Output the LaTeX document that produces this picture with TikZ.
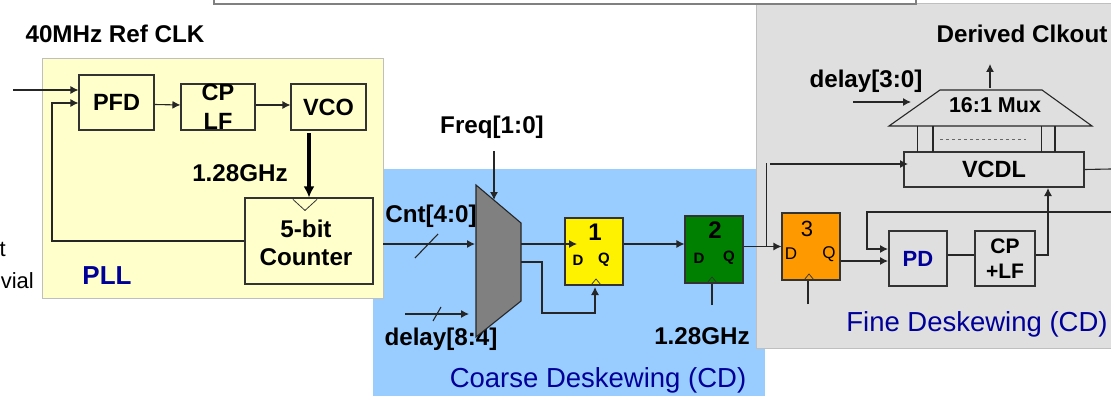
\documentclass[tikz,border=0pt]{standalone}
\usepackage{fontspec}
\setmainfont{Liberation Sans}
\usetikzlibrary{arrows.meta}
\usetikzlibrary{calc}
\definecolor{pllyellow}{HTML}{FFFFCC}
\definecolor{coarseblue}{HTML}{99CCFF}
\definecolor{finegray}{HTML}{DFDFDF}
\definecolor{titleblue}{HTML}{000099}
\newcommand{\bfsz}[1]{\fontsize{#1}{#1}\selectfont\bfseries}
\newcommand{\rmsz}[1]{\fontsize{#1}{#1}\selectfont}
\tikzstyle{block}=[draw=black!80,line width=1.1pt,inner sep=0pt,align=center,font=\bfsz{23.5}]
\tikzstyle{flop}=[block,font=\bfsz{24},text depth=0pt]
\tikzstyle{lbl}=[inner sep=0pt,font=\bfsz{24.2}]
\tikzstyle{pin}=[inner sep=0pt,font=\bfsz{15}]
\tikzstyle{title}=[inner sep=0pt,text=titleblue,font=\rmsz{27.5}]
\tikzstyle{sig}=[line width=1.1pt,draw=black!85]
\tikzstyle{arr}=[sig,-{Latex[length=8pt,width=8pt]}]
\tikzstyle{region}=[line width=0.8pt]
\begin{document}
\begin{tikzpicture}[x=1pt,y=-1pt]
\useasboundingbox (0,0) rectangle (1111,396);

\fill[coarseblue] (373,169) rectangle (765,396);
\draw[region,fill=pllyellow,draw=black!25] (42,58) rectangle (383,298);
\draw[region,fill=finegray,draw=black!25] (756,3) rectangle (1111,348);
\draw[line width=1.2pt,draw=black!50,fill=white] (214,0) -- (214,4) -- (916,4) -- (916,0);

\node [block,minimum width=75pt,minimum height=55pt] (pfd) at (116.5,102.5) {PFD};
\node [block,minimum width=74pt,minimum height=46pt,align=center] (cplf) at (218,107) {CP\\[5pt]LF};
\node [block,minimum width=75pt,minimum height=46pt] (vco) at (328.5,107) {VCO};
\node [block,minimum width=128pt,minimum height=86pt] (cnt) at (309,241) {};
\node [lbl] (cnttxt) at (306,246) {\begin{tabular}{@{}c@{}}5-bit\\[4pt]Counter\end{tabular}};

\node [lbl] (refclk) at (115,34) {40MHz Ref CLK};
\node [lbl] (ghzpll) at (240,173) {1.28GHz};
\node [inner sep=0pt,text=titleblue,font=\bfsz{26}] (plltxt) at (107,276) {PLL};
\node [inner sep=0pt,anchor=east,font=\rmsz{22}] (cropa) at (6,249) {t};
\node [inner sep=0pt,anchor=east,font=\rmsz{22}] (cropb) at (34,281) {vial};

\coordinate (refin) at (13,90);
\coordinate (fbturn) at (52,103);
\coordinate (vcotap) at (309,133);
\draw [arr] (refin) -- (refin -| pfd.west);
\draw [arr] (cnt.west) -| (fbturn) -- (fbturn -| pfd.west);
\draw [arr] ($(pfd.east)+(0,2)$) -- ($(cplf.west)+(0,-2)$);
\draw [arr] ($(cplf.east)+(0,-2)$) -- ($(vco.west)+(0,-2)$);
\draw [line width=3.2pt,draw=black,-{Latex[length=11pt,width=11pt]}] (vcotap) -- (cnt.north);
\draw [line width=0.8pt,draw=black!80] ($(cnt.north)+(-16,2)$) -- ($(cnt.north)+(-4,13)$) -- ($(cnt.north)+(8,2)$);

\node [lbl] (freqtxt) at (492,127) {Freq[1:0]};
\node [lbl] (cnttag) at (431,216) {Cnt[4:0]};
\node [lbl] (dlyhi) at (441,339) {delay[8:4]};
\node [lbl] (ghzcd) at (702,336) {1.28GHz};
\node [title] (coarsetxt) at (598,380.5) {Coarse Deskewing (CD)};

\draw [line width=1.1pt,draw=black!85,fill=black!50] (476,185) -- (521,223) -- (521,301) -- (476,337) -- cycle;
\coordinate (muxtop) at (494,200);
\coordinate (muxin) at (475,244);
\coordinate (muxdly) at (469,314);
\coordinate (muxouta) at (521,244);
\coordinate (muxoutb) at (521,262);
\coordinate (freqin) at (494,151);
\coordinate (cntin) at (383,244);
\coordinate (dlyin) at (405,314);
\draw [arr] (freqin) -- (muxtop);
\draw [arr] (cntin) -- (muxin);
\draw [arr] (dlyin) -- (muxdly);
\draw [sig] (415,258) -- (438,234);
\draw [sig] (433,321) -- (441,307);

\node [flop,fill=yellow,minimum width=58pt,minimum height=67pt] (ffa) at (594,251.5) {};
\node [flop,fill=green!50!black,minimum width=58pt,minimum height=67pt] (ffb) at (714,249.5) {};
\node [flop,fill=orange!80!yellow,minimum width=58pt,minimum height=67pt] (ffc) at (811,246.5) {};
\node [inner sep=0pt,font=\bfsz{24}] (ffanum) at (595,232) {1};
\node [pin] (ffad) at (578,260) {D};
\node [pin] (ffaq) at (604,260) {Q};
\node [inner sep=0pt,font=\bfsz{24}] (ffbnum) at (715,230) {2};
\node [pin] (ffbd) at (699,258) {D};
\node [pin] (ffbq) at (729,258) {Q};
\node [inner sep=0pt,font=\rmsz{22}] (ffcnum) at (807,229) {3};
\node [inner sep=0pt,font=\rmsz{17}] (ffcd) at (791,254) {D};
\node [inner sep=0pt,font=\rmsz{17}] (ffcq) at (829,254) {Q};

\draw [line width=0.7pt,draw=black!80] (591,285) -- (596,279) -- (601,285);
\draw [line width=0.7pt,draw=black!80] (707,283) -- (712,277) -- (717,283);
\draw [line width=0.7pt,draw=black!80] (804,280) -- (809,274) -- (814,280);

\coordinate (ffain) at (577,244);
\coordinate (ffaclk) at (595,287);
\coordinate (bendout) at (542,313);
\coordinate (ffbclk) at (712,305);
\coordinate (ffcclk) at (808,304);
\coordinate (tap) at (766,163);
\draw [arr] (muxouta) -- (ffain);
\draw [arr] (muxoutb) -| (bendout) -| (ffaclk);
\draw [arr] (ffa.east |- ffain) -- (ffb.west |- ffain);
\draw [arr] (ffb.east |- ffc.west) -- (ffc.west);
\draw [sig,line width=0.9pt] (tap) -- (tap |- ffc.west);
\draw [sig] (ffbclk) -- (ffbclk |- ffb.south);
\draw [sig] (ffcclk) -- (ffcclk |- ffc.south);

\node [block,font=\bfsz{22},text=titleblue,minimum width=58pt,minimum height=55pt] (pd) at (918,258.5) {PD};
\node [block,font=\bfsz{21},minimum width=60pt,minimum height=55pt] (cpf) at (1005,258.5) {CP\\[4pt]+LF};
\node [block,minimum width=180pt,minimum height=35pt] (vcdl) at (994,169.5) {VCDL};

\draw [line width=1.1pt,draw=black!85,fill=finegray] (940,90) -- (1042,90) -- (1092,126) -- (889,126) -- cycle;
\node [inner sep=0pt,font=\bfsz{21.5}] (muxtxt) at (995,105) {16:1 Mux};
\node [lbl] (clkout) at (1022,34) {Derived Clkout};
\node [lbl] (dlylo) at (866,81) {delay[3:0]};
\node [title] (finetxt) at (977,324.5) {Fine Deskewing (CD)};

\coordinate (muxup) at (990,64);
\coordinate (dlyloin) at (853,102);
\coordinate (dlyloend) at (911,102);
\coordinate (vcdlfrom) at (770,164);
\coordinate (vcdlin) at (908,164);
\coordinate (vcdlout) at (1111,169);
\coordinate (fbin) at (1111,212);
\coordinate (fbbend) at (867,249);
\coordinate (fbend) at (888,249);
\coordinate (pdin) at (888,261);
\coordinate (ctlup) at (1048,188);
\draw [arr] (990,88) -- (muxup);
\draw [arr] (dlyloin) -- (dlyloend);
\draw [arr] (vcdlfrom) -- (vcdlin);
\draw [sig] (vcdl.east) -- (vcdlout);
\draw [arr] (fbin) -| (fbbend) -- (fbend);
\draw [arr] (ffc.east |- pdin) -- (pdin);
\draw [sig] (pd.east |- 0,255) -- (cpf.west |- 0,255);
\draw [arr] (cpf.east |- 0,255) -| (ctlup);

\foreach \tapx in {917.5,933,1041.5,1055}
  \draw [sig] (\tapx,126) -- (\tapx,152);
\draw [line width=0.9pt,draw=black!60,dashed] (940,139) -- (1026,139);
\end{tikzpicture}
\end{document}
